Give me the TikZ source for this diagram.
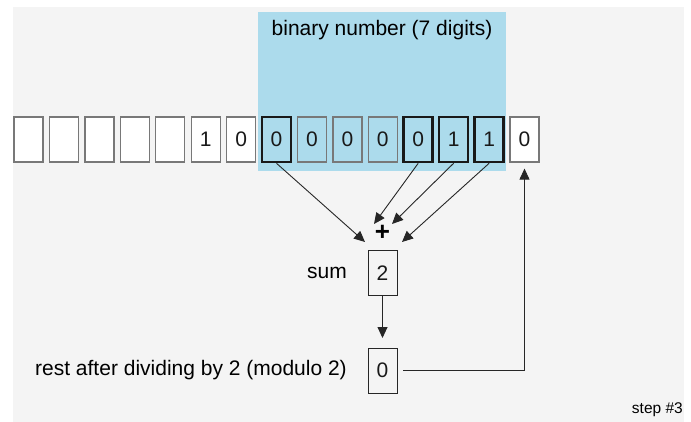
\documentclass[tikz,border=0pt]{standalone}
\usepackage{fontspec}
\setmainfont{Liberation Sans}
\usetikzlibrary{arrows.meta}
\definecolor{bggray}{RGB}{244,244,244}
\definecolor{hlblue}{RGB}{172,219,236}
\definecolor{cellgray}{RGB}{120,120,120}
\definecolor{digit}{RGB}{25,25,25}
\begin{document}
\begin{tikzpicture}[x=1pt,y=-1pt,
  cell/.style={draw=cellgray,line width=1.2pt,minimum width=29pt,minimum height=45pt,inner sep=0pt,
    font=\fontsize{21}{25}\selectfont,text=digit},
  boldcell/.style={cell,draw=black!90,line width=2.6pt},
  outcell/.style={cell,fill=white},
  resbox/.style={draw=black!85,line width=1pt,minimum width=29pt,minimum height=44pt,inner sep=0pt,
    font=\fontsize{21}{25}\selectfont,text=digit},
  lbl/.style={font=\fontsize{21}{25}\selectfont,inner sep=0pt},
  arr/.style={line width=0.9pt,draw=black!85,-{Triangle[length=11pt,width=10pt]}},
  ln/.style={line width=0.9pt,draw=black!85}]
\useasboundingbox (0,0) rectangle (691,422);
\fill[white] (0,0) rectangle (691,422);
\fill[bggray] (13,7) rectangle (684,422);
\fill[hlblue] (258,12) rectangle (506,171);
\node[lbl] (title) at (382,30) {binary number (7 digits)};
% cells
\node[outcell] (c1) at (28.5,139.5) {};
\node[outcell] (c2) at (63.9,139.5) {};
\node[outcell] (c3) at (99.4,139.5) {};
\node[outcell] (c4) at (134.8,139.5) {};
\node[outcell] (c5) at (170.2,139.5) {};
\node[outcell] (c6) at (205.7,139.5) {1};
\node[outcell] (c7) at (241.1,139.5) {0};
\node[boldcell] (c8) at (276.5,139.5) {0};
\node[cell] (c9) at (312.0,139.5) {0};
\node[cell] (c10) at (347.4,139.5) {0};
\node[cell] (c11) at (382.8,139.5) {0};
\node[boldcell] (c12) at (418.2,139.5) {0};
\node[boldcell] (c13) at (453.6,139.5) {1};
\node[boldcell] (c14) at (489.1,139.5) {1};
\node[outcell] (c15) at (524.5,139.5) {0};
% plus and sum
\node[font=\fontsize{26}{28}\selectfont\bfseries,inner sep=0pt] (plus) at (382.5,233) {+};
\coordinate (p1) at (365,242);
\coordinate (p2) at (374,224);
\coordinate (p3) at (392,224);
\coordinate (p4) at (402,242);
\draw[arr] (c8.south) -- (p1);
\draw[arr] (c12.south) -- (p2);
\draw[arr] (c13.south) -- (p3);
\draw[arr] (c14.south) -- (p4);
\node[resbox] (sum) at (382.5,273) {2};
\node[lbl,anchor=east] (sumlbl) at (347,273) {sum};
\node[resbox,minimum height=45pt] (rest) at (382.5,370.5) {0};
\node[lbl,anchor=east] (restlbl) at (347,370.5) {rest after dividing by 2 (modulo 2)};
\coordinate (restin) at (382.5,338);
\draw[arr] (sum.south) -- (restin);
\coordinate (reststart) at (403,370.5);
\coordinate (corner) at (c15.south |- reststart);
\draw[ln] (reststart) -- (corner);
\draw[arr] (corner) -- ([yshift=-6pt]c15.south);
\node[font=\fontsize{15.5}{18}\selectfont,anchor=east,inner sep=0pt] (step) at (683,410) {step \#3};
\end{tikzpicture}
\end{document}
